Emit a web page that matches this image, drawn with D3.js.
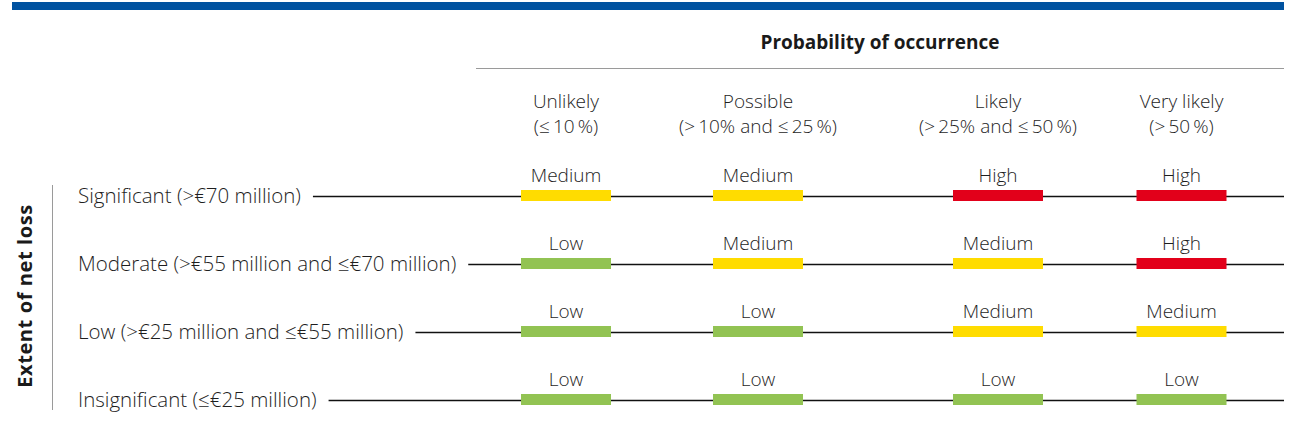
<!DOCTYPE html>
<html><head><meta charset="utf-8">
<script src="https://cdn.jsdelivr.net/npm/d3@7"></script>
<style>
html,body{margin:0;padding:0;background:#fff;}
svg{display:block;font-family:"Open Sans",sans-serif;}
</style></head>
<body><svg id="c" width="1291" height="448"></svg>
<script>
const title = "Probability of occurrence";
const yTitle = "Extent of net loss";
const probCats = ["Unlikely","Possible","Likely","Very likely"];
const probSub = ["(≤\u200910\u2009%)","(>\u200910% and \u2264\u200925\u2009%)","(>\u200925% and \u2264\u200950\u2009%)","(>\u200950\u2009%)"];
const lossCats = ["Significant (>\u20AC70 million)","Moderate (>\u20AC55 million and \u2264\u20AC70 million)","Low (>\u20AC25 million and \u2264\u20AC55 million)","Insignificant (\u2264\u20AC25 million)"];
// risk levels per loss row, per probability column
const risk = [
  ["Medium","Medium","High","High"],
  ["Low","Medium","Medium","High"],
  ["Low","Low","Medium","Medium"],
  ["Low","Low","Low","Low"]
];
const levels = ["Low","Medium","High"];
const levelColors = ["#92c353","#ffdc00","#e2001a"];

const svg = d3.select("#c");
const x = d3.scaleOrdinal().domain(probCats).range([566,758,998,1181.5]);
const y = d3.scalePoint().domain(lossCats).range([196,400]);
const color = d3.scaleOrdinal().domain(levels).range(levelColors);
const barW = 90, barH = 11, lineEnd = 1284;
const txt = "#1e1e1e";

// top blue band
svg.append("rect").attr("x",12).attr("y",2).attr("width",1272).attr("height",8).attr("fill","#0052a0");

// title
svg.append("text").attr("x",880).attr("y",49).attr("text-anchor","middle")
  .attr("font-size",19).attr("font-weight",700).attr("fill","#1a1a1a").text(title);
svg.append("line").attr("x1",476).attr("x2",lineEnd).attr("y1",68.5).attr("y2",68.5)
  .attr("stroke","#9a9a9a").attr("stroke-width",1);

// column headers
const hdr = svg.append("g").selectAll("g").data(probCats).join("g")
  .attr("transform",d=>`translate(${x(d)},0)`);
hdr.append("text").attr("y",108).attr("text-anchor","middle").attr("font-size",19)
  .attr("font-weight",300).attr("fill",txt).text(d=>d);
hdr.append("text").attr("y",133).attr("text-anchor","middle").attr("font-size",19)
  .attr("font-weight",300).attr("fill",txt).text((d,i)=>probSub[i]);

// y axis title and line
svg.append("text").attr("transform","translate(32,296) rotate(-90)").attr("text-anchor","middle")
  .attr("font-size",20).attr("font-weight",700).attr("letter-spacing",0.6).attr("fill","#1a1a1a").text(yTitle);
svg.append("line").attr("x1",52.5).attr("x2",52.5).attr("y1",185).attr("y2",410)
  .attr("stroke","#9a9a9a").attr("stroke-width",1);

// rows
const rows = svg.append("g").selectAll("g").data(lossCats).join("g")
  .attr("transform",d=>`translate(0,${y(d)})`);
rows.each(function(d,ri){
  const g = d3.select(this);
  const t = g.append("text").attr("x",78).attr("y",7).attr("font-size",20.5)
    .attr("font-weight",300).attr("fill",txt).text(d);
  const w = t.node().getComputedTextLength();
  g.append("line").attr("x1",78+w+12).attr("x2",lineEnd).attr("y1",0.5).attr("y2",0.5)
    .attr("stroke","#111").attr("stroke-width",1.5);
  const cells = g.selectAll("g.cell").data(probCats.map((p,ci)=>({p,v:risk[ri][ci]})))
    .join("g").attr("class","cell");
  cells.append("rect").attr("x",c=>x(c.p)-barW/2).attr("y",-6).attr("width",barW).attr("height",barH)
    .attr("fill",c=>color(c.v));
  cells.append("text").attr("x",c=>x(c.p)).attr("y",-14).attr("text-anchor","middle")
    .attr("font-size",19).attr("font-weight",300).attr("fill",txt).text(c=>c.v);
});
</script></body></html>
